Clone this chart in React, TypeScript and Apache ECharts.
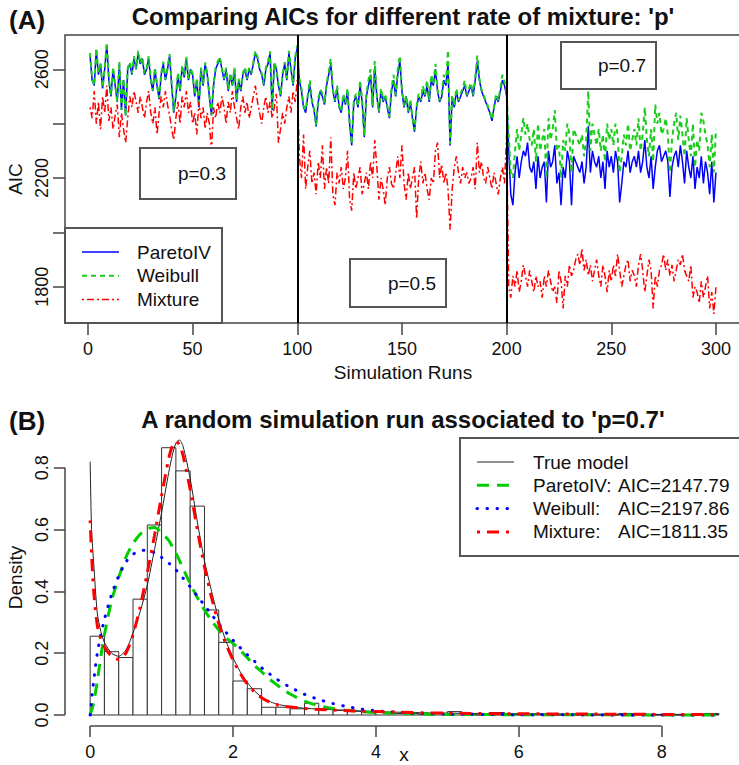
import React, { useEffect, useRef } from "react";
import * as echarts from "echarts";

const FONT = "'Liberation Sans', Arial, Helvetica, sans-serif";

// ---------- Panel (A): AIC per simulation run ----------
const runTicks = [0, 50, 100, 150, 200, 250, 300];
const aicTicks = [1800, 2000, 2200, 2400, 2600];
const aicLabels = [1800, 2200, 2600];
const regimeBreaks = [100, 200];
const regimeLabels = ["p=0.3", "p=0.5", "p=0.7"];
const seriesNamesA = ["ParetoIV", "Weibull", "Mixture"];

const paretoP03 = [
  2650, 2560, 2540, 2670, 2580, 2620, 2530, 2600, 2690, 2560,
  2500, 2600, 2540, 2480, 2620, 2450, 2560, 2430, 2600, 2620,
  2580, 2640, 2600, 2660, 2620, 2640, 2580, 2600, 2640, 2560,
  2520, 2600, 2540, 2490, 2580, 2620, 2560, 2600, 2650, 2540,
  2440, 2500, 2580, 2520, 2610, 2570, 2640, 2560, 2600, 2580,
  2500, 2560, 2460, 2600, 2540, 2620, 2580, 2500, 2430, 2540,
  2600, 2620, 2640, 2600, 2560, 2600, 2520, 2580, 2540, 2600,
  2480, 2560, 2520, 2580, 2600, 2560, 2600, 2580, 2620, 2660,
  2640, 2600, 2580, 2540, 2600, 2620, 2660, 2450, 2620, 2600,
  2540, 2500, 2580, 2620, 2560, 2660, 2600, 2540, 2640, 2680,
];
const weibullP03 = [
  2660, 2565, 2540, 2678, 2585, 2625, 2532, 2605, 2698, 2562,
  2505, 2608, 2545, 2482, 2628, 2452, 2566, 2428, 2605, 2626,
  2585, 2648, 2602, 2668, 2622, 2645, 2585, 2602, 2648, 2565,
  2522, 2606, 2545, 2495, 2585, 2628, 2562, 2605, 2656, 2545,
  2445, 2505, 2588, 2522, 2615, 2575, 2646, 2565, 2604, 2585,
  2505, 2565, 2462, 2606, 2545, 2625, 2585, 2505, 2432, 2546,
  2605, 2628, 2645, 2605, 2565, 2606, 2525, 2585, 2542, 2605,
  2485, 2565, 2525, 2585, 2608, 2565, 2605, 2585, 2626, 2668,
  2645, 2606, 2585, 2545, 2605, 2628, 2666, 2452, 2625, 2605,
  2545, 2505, 2585, 2626, 2565, 2668, 2605, 2545, 2646, 2688,
];
const mixtureP03 = [
  2460, 2420, 2520, 2400, 2480, 2380, 2500, 2440, 2540, 2410,
  2460, 2380, 2430, 2470, 2350, 2440, 2380, 2330, 2420, 2500,
  2460, 2520, 2480, 2440, 2500, 2460, 2420, 2480, 2520, 2440,
  2400, 2460, 2360, 2440, 2500, 2460, 2520, 2470, 2430, 2380,
  2340, 2420, 2480, 2400, 2500, 2460, 2520, 2440, 2480, 2400,
  2440, 2360, 2480, 2420, 2460, 2380, 2440, 2400, 2300, 2460,
  2420, 2480, 2440, 2500, 2460, 2400, 2480, 2440, 2520, 2460,
  2420, 2380, 2460, 2500, 2440, 2480, 2420, 2460, 2500, 2540,
  2480, 2440, 2400, 2460, 2500, 2440, 2480, 2420, 2460, 2510,
  2330, 2380, 2440, 2400, 2460, 2500, 2440, 2520, 2480, 2560,
];
const paretoP05 = [
  2560, 2520, 2460, 2440, 2500, 2540, 2480, 2450, 2390, 2480,
  2520, 2500, 2470, 2540, 2580, 2620, 2520, 2480, 2530, 2460,
  2440, 2500, 2470, 2520, 2400, 2320, 2480, 2500, 2460, 2540,
  2480, 2350, 2500, 2540, 2580, 2460, 2610, 2500, 2440, 2520,
  2480, 2500, 2460, 2420, 2520, 2560, 2500, 2580, 2630, 2520,
  2460, 2500, 2440, 2480, 2420, 2370, 2460, 2500, 2480, 2520,
  2500, 2540, 2480, 2560, 2540, 2600, 2520, 2480, 2500, 2560,
  2540, 2620, 2320, 2500, 2460, 2520, 2480, 2500, 2520, 2540,
  2500, 2520, 2540, 2500, 2560, 2630, 2560, 2520, 2500, 2480,
  2460, 2440, 2410, 2460, 2500, 2480, 2520, 2560, 2540, 2500,
];
const weibullP05 = [
  2565, 2530, 2465, 2450, 2505, 2560, 2485, 2455, 2395, 2490,
  2525, 2510, 2475, 2550, 2590, 2640, 2525, 2485, 2540, 2465,
  2445, 2510, 2475, 2530, 2405, 2325, 2485, 2510, 2465, 2560,
  2485, 2355, 2510, 2560, 2600, 2465, 2630, 2505, 2445, 2530,
  2485, 2510, 2465, 2425, 2530, 2580, 2505, 2600, 2650, 2525,
  2465, 2505, 2445, 2490, 2425, 2375, 2465, 2510, 2485, 2540,
  2505, 2560, 2485, 2580, 2545, 2620, 2525, 2485, 2510, 2580,
  2550, 2670, 2325, 2505, 2465, 2530, 2485, 2510, 2530, 2560,
  2505, 2530, 2550, 2505, 2570, 2650, 2565, 2525, 2505, 2485,
  2465, 2445, 2415, 2465, 2510, 2485, 2530, 2580, 2550, 2510,
];
const mixtureP05 = [
  2280, 2200, 2360, 2160, 2240, 2300, 2180, 2220, 2140, 2260,
  2200, 2320, 2160, 2240, 2180, 2350, 2140, 2100, 2220, 2180,
  2240, 2160, 2200, 2300, 2120, 2080, 2220, 2160, 2200, 2240,
  2140, 2180, 2220, 2160, 2260, 2200, 2340, 2240, 2120, 2200,
  2160, 2100, 2200, 2240, 2180, 2160, 2220, 2280, 2200, 2320,
  2180, 2120, 2220, 2160, 2200, 2240, 2050, 2200, 2260, 2180,
  2220, 2160, 2120, 2200, 2180, 2300, 2330, 2200, 2250, 2180,
  2220, 2160, 2010, 2160, 2240, 2280, 2220, 2180, 2240, 2200,
  2220, 2180, 2200, 2240, 2160, 2330, 2220, 2260, 2200, 2180,
  2240, 2200, 2160, 2220, 2180, 2140, 2200, 2240, 2180, 2360,
];
const paretoP07 = [
  2300, 2140, 2100, 2220, 2280, 2200, 2260, 2300, 2280, 2330,
  2240, 2220, 2260, 2160, 2280, 2200, 2240, 2260, 2110, 2300,
  2240, 2260, 2320, 2180, 2220, 2100, 2240, 2200, 2300, 2260,
  2100, 2280, 2260, 2240, 2220, 2260, 2180, 2240, 2390, 2220,
  2300, 2260, 2240, 2280, 2200, 2260, 2160, 2300, 2240, 2280,
  2220, 2300, 2260, 2110, 2180, 2260, 2240, 2300, 2220, 2260,
  2280, 2240, 2300, 2220, 2260, 2340, 2240, 2200, 2280, 2160,
  2240, 2300, 2320, 2260, 2280, 2300, 2260, 2130, 2240, 2280,
  2300, 2240, 2320, 2260, 2180, 2300, 2240, 2200, 2280, 2160,
  2240, 2200, 2280, 2180, 2260, 2220, 2140, 2260, 2110, 2220,
];
const weibullP07 = [
  2360, 2220, 2200, 2300, 2380, 2300, 2360, 2420, 2360, 2400,
  2340, 2320, 2380, 2260, 2400, 2300, 2340, 2380, 2200, 2420,
  2340, 2380, 2450, 2300, 2320, 2200, 2340, 2300, 2400, 2360,
  2220, 2380, 2360, 2340, 2320, 2360, 2280, 2340, 2520, 2300,
  2400, 2360, 2320, 2380, 2300, 2360, 2260, 2400, 2340, 2380,
  2320, 2400, 2360, 2220, 2280, 2360, 2320, 2400, 2300, 2340,
  2380, 2320, 2420, 2300, 2360, 2460, 2340, 2280, 2380, 2260,
  2470, 2400, 2440, 2360, 2380, 2420, 2360, 2220, 2340, 2400,
  2440, 2340, 2430, 2360, 2280, 2420, 2340, 2280, 2400, 2240,
  2340, 2300, 2440, 2410, 2360, 2320, 2240, 2360, 2220, 2380,
];
const mixtureP07 = [
  1800, 1760, 1840, 1800, 1860, 1780, 1820, 1880, 1840, 1800,
  1860, 1820, 1780, 1840, 1800, 1820, 1760, 1840, 1800, 1860,
  1820, 1780, 1800, 1740, 1860, 1820, 1720, 1840, 1800, 1880,
  1840, 1860, 1900, 1920, 1880, 1940, 1860, 1900, 1840, 1880,
  1820, 1860, 1900, 1840, 1800, 1880, 1840, 1780, 1860, 1820,
  1880, 1840, 1920, 1860, 1800, 1840, 1880, 1900, 1820, 1860,
  1840, 1800, 1880, 1920, 1860, 1780, 1840, 1900, 1860, 1720,
  1840, 1800, 1860, 1880, 1920, 1860, 1900, 1840, 1880, 1820,
  1860, 1900, 1880, 1920, 1860, 1840, 1820, 1880, 1760, 1800,
  1780, 1740, 1820, 1760, 1800, 1840, 1720, 1780, 1700, 1800,
];

// ---------- Panel (B): histogram + fitted densities ----------
const xTicks = [0, 2, 4, 6, 8];
const densityTicks = [0, 0.2, 0.4, 0.6, 0.8];
const histBinWidth = 0.2;
const histDensity = [
  0.255, 0.205, 0.186, 0.375, 0.615, 0.865, 0.79, 0.676, 0.34, 0.235,
  0.11, 0.085, 0.025, 0.025, 0.02, 0.038, 0.02, 0.015, 0.012, 0.01,
  0.008, 0.005, 0.005, 0.003, 0.005, 0.011, 0.002, 0.0, 0.008, 0.002,
  0.0, 0.003, 0.0, 0.002, 0.0, 0.0, 0.0, 0.005, 0.003, 0.0,
  0.0, 0.0, 0.0, 0.005,
];
const densityX = [
  0, 0.02, 0.05, 0.1, 0.15, 0.2, 0.3, 0.4, 0.5, 0.6,
  0.7, 0.8, 0.9, 1.0, 1.1, 1.15, 1.2, 1.25, 1.3, 1.4,
  1.5, 1.6, 1.7, 1.8, 1.9, 2.0, 2.1, 2.2, 2.3, 2.4,
  2.5, 2.6, 2.7, 2.8, 3.0, 3.2, 3.4, 3.6, 3.8, 4.0,
  4.5, 5.0, 6.0, 7.0, 8.0, 8.8,
];
const trueDensity = [
  0.82, 0.60, 0.49, 0.33, 0.27, 0.235, 0.20, 0.19, 0.21, 0.265,
  0.335, 0.42, 0.535, 0.655, 0.785, 0.84, 0.88, 0.89, 0.87, 0.765,
  0.625, 0.50, 0.40, 0.31, 0.24, 0.185, 0.14, 0.105, 0.078, 0.058,
  0.045, 0.036, 0.031, 0.027, 0.022, 0.019, 0.017, 0.015, 0.013, 0.011,
  0.008, 0.006, 0.004, 0.003, 0.002, 0.002,
];
const paretoDensity = [
  0, 0.015, 0.04, 0.11, 0.19, 0.26, 0.37, 0.445, 0.51, 0.555,
  0.585, 0.603, 0.607, 0.59, 0.565, 0.545, 0.525, 0.50, 0.475, 0.425,
  0.38, 0.34, 0.305, 0.275, 0.25, 0.232, 0.21, 0.185, 0.16, 0.14,
  0.118, 0.10, 0.083, 0.068, 0.045, 0.03, 0.021, 0.015, 0.011, 0.008,
  0.004, 0.002, 0.001, 0.0005, 0.0003, 0.0002,
];
const weibullDensity = [
  0.0, 0.05, 0.11, 0.20, 0.26, 0.31, 0.39, 0.45, 0.495, 0.52,
  0.532, 0.533, 0.525, 0.51, 0.492, 0.481, 0.47, 0.457, 0.443, 0.415,
  0.385, 0.355, 0.325, 0.295, 0.268, 0.242, 0.218, 0.195, 0.174, 0.153,
  0.135, 0.118, 0.103, 0.09, 0.067, 0.05, 0.037, 0.027, 0.019, 0.014,
  0.006, 0.003, 0.001, 0.0003, 0.0001, 0.0,
];
const mixtureDensity = [
  0.63, 0.52, 0.40, 0.29, 0.245, 0.22, 0.19, 0.18, 0.20, 0.26,
  0.35, 0.46, 0.58, 0.71, 0.83, 0.87, 0.885, 0.875, 0.84, 0.73,
  0.60, 0.48, 0.38, 0.295, 0.23, 0.178, 0.135, 0.10, 0.075, 0.056,
  0.043, 0.034, 0.029, 0.026, 0.021, 0.018, 0.016, 0.014, 0.012, 0.011,
  0.008, 0.006, 0.004, 0.003, 0.002, 0.002,
];
const legendB = [
  { name: "True model", aic: "" },
  { name: "ParetoIV:", aic: "AIC=2147.79" },
  { name: "Weibull:", aic: "AIC=2197.86" },
  { name: "Mixture:", aic: "AIC=1811.35" },
];

// axis ranges (R-style 4% extension)
const A_XMIN = -10.96, A_XMAX = 311.96, A_YMIN = 1666.4, A_YMAX = 2726.2;
const B_XMIN = -0.352, B_XMAX = 9.152, B_YMIN = -0.0356, B_YMAX = 0.9256;

const BLUE = "#0000ff";
const GREEN = "#1ccc1c";
const RED = "#ff0000";
const AXIS = "#444";
const TXT = "#111";

const styleA = [
  { color: BLUE, width: 1.5, type: "solid" as any },
  { color: GREEN, width: 2, type: [5, 4] as any },
  { color: RED, width: 1.5, type: [2, 3, 7, 3] as any },
];
const styleB = {
  trueM: { color: "#222", width: 1, type: "solid" as any, cap: "butt" as any },
  pareto: { color: "#00cc00", width: 3, type: [12, 8] as any, cap: "butt" as any },
  weibull: { color: BLUE, width: 3, type: [0.5, 9.5] as any, cap: "round" as any },
  mixture: { color: RED, width: 3, type: [3, 7, 12, 7] as any, cap: "butt" as any },
};

function toRuns(a: number[], b: number[], c: number[]) {
  return [...a, ...b, ...c].map((v, i) => [i + 1, v]);
}

export default function App() {
  const ref = useRef<HTMLDivElement>(null);
  useEffect(() => {
    const chart = echarts.init(ref.current!, null, { renderer: "svg" });
    const runsPareto = toRuns(paretoP03, paretoP05, paretoP07);
    const runsWeibull = toRuns(weibullP03, weibullP05, weibullP07);
    const runsMixture = toRuns(mixtureP03, mixtureP05, mixtureP07);
    const zipD = (ys: number[]) => densityX.map((x, i) => [x, ys[i]]);

    const tickLabel = { fontSize: 18, color: TXT, fontFamily: FONT };
    const nameStyle = { fontSize: 19, color: TXT, fontFamily: FONT };

    const legendLine = (x: number, y: number, st: any, z = 110) => ({
      type: "line",
      z,
      shape: { x1: x, y1: y, x2: x + 37, y2: y },
      style: {
        stroke: st.color,
        lineWidth: st.width,
        lineDash: Array.isArray(st.type) ? st.type : null,
        lineCap: st.cap || "butt",
      },
    });
    const txt = (text: string, x: number, y: number, extra: any = {}) => ({
      type: "text",
      z: 110,
      style: {
        text,
        x,
        y,
        fill: TXT,
        font: `19px ${FONT}`,
        textAlign: "left",
        textVerticalAlign: "middle",
        verticalAlign: "middle",
        ...extra,
      },
    });
    const pBox = (label: string, x: number, y: number, w: number, h: number) => [
      {
        type: "rect",
        z: 105,
        shape: { x, y, width: w, height: h },
        style: { fill: "#fff", stroke: "#555", lineWidth: 2 },
      },
      txt(label, x + w - 10, y + h / 2, { textAlign: "right" }),
    ];

    const graphic: any[] = [
      txt("(A)", 9, 20, { font: `bold 26px ${FONT}` }),
      txt("Comparing AICs for different rate of mixture: 'p'", 403, 16, {
        font: `bold 24px ${FONT}`,
        textAlign: "center",
      }),
      txt("(B)", 9, 421, { font: `bold 26px ${FONT}` }),
      txt("A random simulation run associated to 'p=0.7'", 403, 419, {
        font: `bold 24px ${FONT}`,
        textAlign: "center",
      }),
      // x-axis title of panel (B), sitting just below the tick labels as in R
      txt("x", 404, 754, { textAlign: "center" }),
      ...pBox(regimeLabels[0], 140, 148, 96, 51),
      ...pBox(regimeLabels[1], 350, 259, 96, 48),
      ...pBox(regimeLabels[2], 561, 42, 95, 47),
      // legend A
      {
        type: "rect",
        z: 105,
        shape: { x: 65, y: 228, width: 157, height: 95 },
        style: { fill: "#fff", stroke: "#555", lineWidth: 2 },
      },
      ...seriesNamesA.flatMap((n, i) => [
        legendLine(82, 252 + i * 23.8, styleA[i]),
        txt(n, 137, 252 + i * 23.8),
      ]),
      // legend B
      {
        type: "rect",
        z: 105,
        shape: { x: 460, y: 438, width: 300, height: 118 },
        style: { fill: "#fff", stroke: "#555", lineWidth: 2 },
      },
      ...[styleB.trueM, styleB.pareto, styleB.weibull, styleB.mixture].map((st, i) =>
        legendLine(477, 462 + i * 23.3, st)
      ),
      ...legendB.flatMap((e, i) => {
        const out: any[] = [txt(e.name, 533, 462 + i * 23.3)];
        if (e.aic) out.push(txt(e.aic, 618, 462 + i * 23.3));
        return out;
      }),
    ];

    const option: any = {
      animation: false,
      backgroundColor: "#fff",
      textStyle: { fontFamily: FONT },
      grid: [
        {
          left: 65, top: 35, width: 676, height: 288,
          outerBoundsMode: "none", containLabel: false,
          show: true, borderColor: AXIS, borderWidth: 1.5, backgroundColor: "transparent",
        },
        {
          left: 65, top: 429, width: 679, height: 297,
          outerBoundsMode: "none", containLabel: false, show: false,
        },
      ],
      xAxis: [
        {
          gridIndex: 0, type: "value", min: A_XMIN, max: A_XMAX,
          axisLine: { show: false, onZero: false },
          splitLine: { show: false },
          axisTick: { show: true, customValues: runTicks, length: 12, lineStyle: { color: AXIS, width: 1.5 } },
          axisLabel: { ...tickLabel, customValues: runTicks, margin: 17 },
          name: "Simulation Runs", nameLocation: "middle", nameGap: 40, nameTextStyle: nameStyle,
        },
        {
          gridIndex: 1, type: "value", min: B_XMIN, max: B_XMAX,
          axisLine: { show: false, onZero: false },
          splitLine: { show: false },
          axisTick: { show: true, customValues: xTicks, length: 11, lineStyle: { color: AXIS, width: 1.5 } },
          axisLabel: { ...tickLabel, customValues: xTicks, margin: 17 },
        },
      ],
      yAxis: [
        {
          gridIndex: 0, type: "value", min: A_YMIN, max: A_YMAX,
          axisLine: { show: false, onZero: false },
          splitLine: { show: false },
          axisTick: { show: true, customValues: aicTicks, length: 12, lineStyle: { color: AXIS, width: 1.5 } },
          axisLabel: {
            ...tickLabel, customValues: aicLabels, rotate: 90, margin: 14,
            formatter: (v: number) => String(v),
          },
          name: "AIC", nameLocation: "middle", nameGap: 40, nameTextStyle: nameStyle,
        },
        {
          gridIndex: 1, type: "value", min: B_YMIN, max: B_YMAX,
          axisLine: { show: false, onZero: false },
          splitLine: { show: false },
          axisTick: { show: true, customValues: densityTicks, length: 11, lineStyle: { color: AXIS, width: 1.5 } },
          axisLabel: {
            ...tickLabel, customValues: densityTicks, rotate: 90, margin: 14,
            formatter: (v: number) => v.toFixed(1),
          },
          name: "Density", nameLocation: "middle", nameGap: 40, nameTextStyle: nameStyle,
        },
      ],
      series: [
        ...[runsPareto, runsWeibull, runsMixture].map((d, i) => ({
          type: "line",
          name: seriesNamesA[i],
          xAxisIndex: 0, yAxisIndex: 0,
          data: d,
          showSymbol: false,
          silent: true,
          lineStyle: styleA[i],
          z: 2 + i,
          ...(i === 2
            ? {
                markLine: {
                  silent: true,
                  symbol: ["none", "none"],
                  label: { show: false },
                  lineStyle: { color: "#000", width: 2, type: "solid" },
                  data: regimeBreaks.map((b) => ({ xAxis: b })),
                },
              }
            : {}),
        })),
        {
          type: "custom",
          xAxisIndex: 1, yAxisIndex: 1,
          silent: true,
          data: histDensity.map((d, i) => [i * histBinWidth, (i + 1) * histBinWidth, d]),
          encode: { x: [0, 1], y: 2 },
          renderItem: (_p: any, api: any) => {
            const p0 = api.coord([api.value(0), 0]);
            const p1 = api.coord([api.value(1), api.value(2)]);
            return {
              type: "rect",
              shape: { x: p0[0], y: p1[1], width: p1[0] - p0[0], height: p0[1] - p1[1] },
              style: { fill: "#fff", stroke: "#333", lineWidth: 1 },
            };
          },
          z: 2,
        },
        ...[
          [trueDensity, styleB.trueM],
          [paretoDensity, styleB.pareto],
          [weibullDensity, styleB.weibull],
          [mixtureDensity, styleB.mixture],
        ].map(([ys, st]: any, i) => ({
          type: "line",
          xAxisIndex: 1, yAxisIndex: 1,
          data: zipD(ys),
          showSymbol: false,
          silent: true,
          smooth: 0.25,
          lineStyle: st,
          z: 3 + i,
        })),
        // R-style axis lines spanning the first to last tick
        {
          type: "line", xAxisIndex: 1, yAxisIndex: 1, silent: true, showSymbol: false, clip: false,
          data: [[xTicks[0], B_YMIN], [xTicks[xTicks.length - 1], B_YMIN]],
          lineStyle: { color: AXIS, width: 1.5 }, z: 8,
        },
        {
          type: "line", xAxisIndex: 1, yAxisIndex: 1, silent: true, showSymbol: false, clip: false,
          data: [[B_XMIN, densityTicks[0]], [B_XMIN, densityTicks[densityTicks.length - 1]]],
          lineStyle: { color: AXIS, width: 1.5 }, z: 8,
        },
      ],
      graphic,
    };
    chart.setOption(option);
    return () => chart.dispose();
  }, []);
  return (
    <div
      ref={ref}
      style={{ position: "fixed", left: 0, top: 0, width: 739, height: 765, background: "#fff" }}
    />
  );
}
